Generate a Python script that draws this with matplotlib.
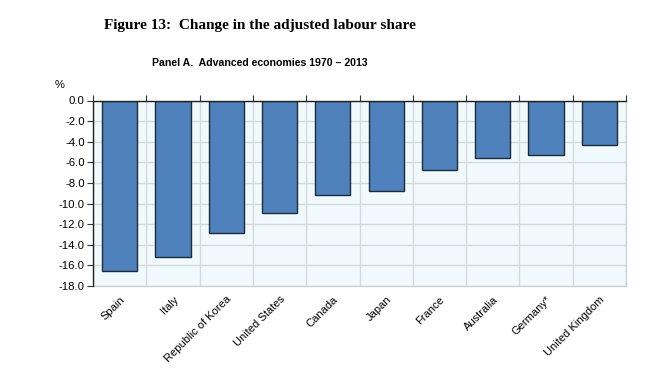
import matplotlib
matplotlib.use("Agg")
import matplotlib.pyplot as plt
import numpy as np

countries = ["Spain", "Italy", "Republic of Korea", "United States", "Canada",
             "Japan", "France", "Australia", "Germany*", "United Kingdom"]
change = [-16.5, -15.2, -12.9, -10.95, -9.2, -8.8, -6.75, -5.6, -5.3, -4.35]
yticks = [0, -2, -4, -6, -8, -10, -12, -14, -16, -18]
ytick_labels = ["0.0", "-2.0", "-4.0", "-6.0", "-8.0", "-10.0", "-12.0", "-14.0", "-16.0", "-18.0"]

plt.rcParams['font.family'] = ['Liberation Sans', 'DejaVu Sans']

fig = plt.figure(figsize=(6.68, 3.78), dpi=100)
ax = fig.add_axes([93/668, 1-286/378, (626-93)/668, (286-100.5)/378])
ax.set_facecolor("#F0FAFE")

x = np.arange(len(countries))
ax.bar(x, change, width=0.66, color="#4F81BD", edgecolor="#1C2B3A", linewidth=1.0, zorder=3)

ax.set_xlim(-0.5, len(countries) - 0.5)
ax.set_ylim(-18, 0)
ax.set_yticks(yticks)
ax.set_yticklabels(ytick_labels, fontsize=8.2)

ax.set_xticks(x)
ax.set_xticklabels(countries, rotation=45, ha="right", rotation_mode="anchor", fontsize=8)
ax.set_xticks(np.arange(-0.5, len(countries)), minor=True)

ax.tick_params(axis="x", which="major", length=0, pad=6, bottom=True, top=False)
ax.tick_params(axis="x", which="minor", length=4, width=0.8, top=True, bottom=False, direction="out", color="#333333")
ax.tick_params(axis="y", which="major", length=4, width=0.8, direction="out", color="#333333", pad=2)

ax.grid(which="minor", axis="x", color="#D5D8DA", linewidth=1.0, zorder=0)
ax.grid(which="major", axis="y", color="#D5D8DA", linewidth=1.0, zorder=0)
ax.set_axisbelow(True)

for s in ["top", "left"]:
    ax.spines[s].set_color("#222222")
    ax.spines[s].set_linewidth(1.0)
    ax.spines[s].set_zorder(4)
for s in ["bottom", "right"]:
    ax.spines[s].set_color("#D0D3D5")
    ax.spines[s].set_linewidth(1.0)

fig.text(260/668, 1-25/378, "Figure 13:  Change in the adjusted labour share",
         ha="center", va="center", fontsize=11, fontweight="bold",
         family=["Liberation Serif", "DejaVu Serif"])
fig.text(260/668, 1-63/378, "Panel A.  Advanced economies 1970 \u2013 2013",
         ha="center", va="center", fontsize=7.6, fontweight="bold",
         family=["Liberation Sans Narrow", "Liberation Sans", "DejaVu Sans"])
fig.text(60/668, 1-85/378, "%", ha="center", va="center", fontsize=8)

fig.savefig("out.png", dpi=100)
